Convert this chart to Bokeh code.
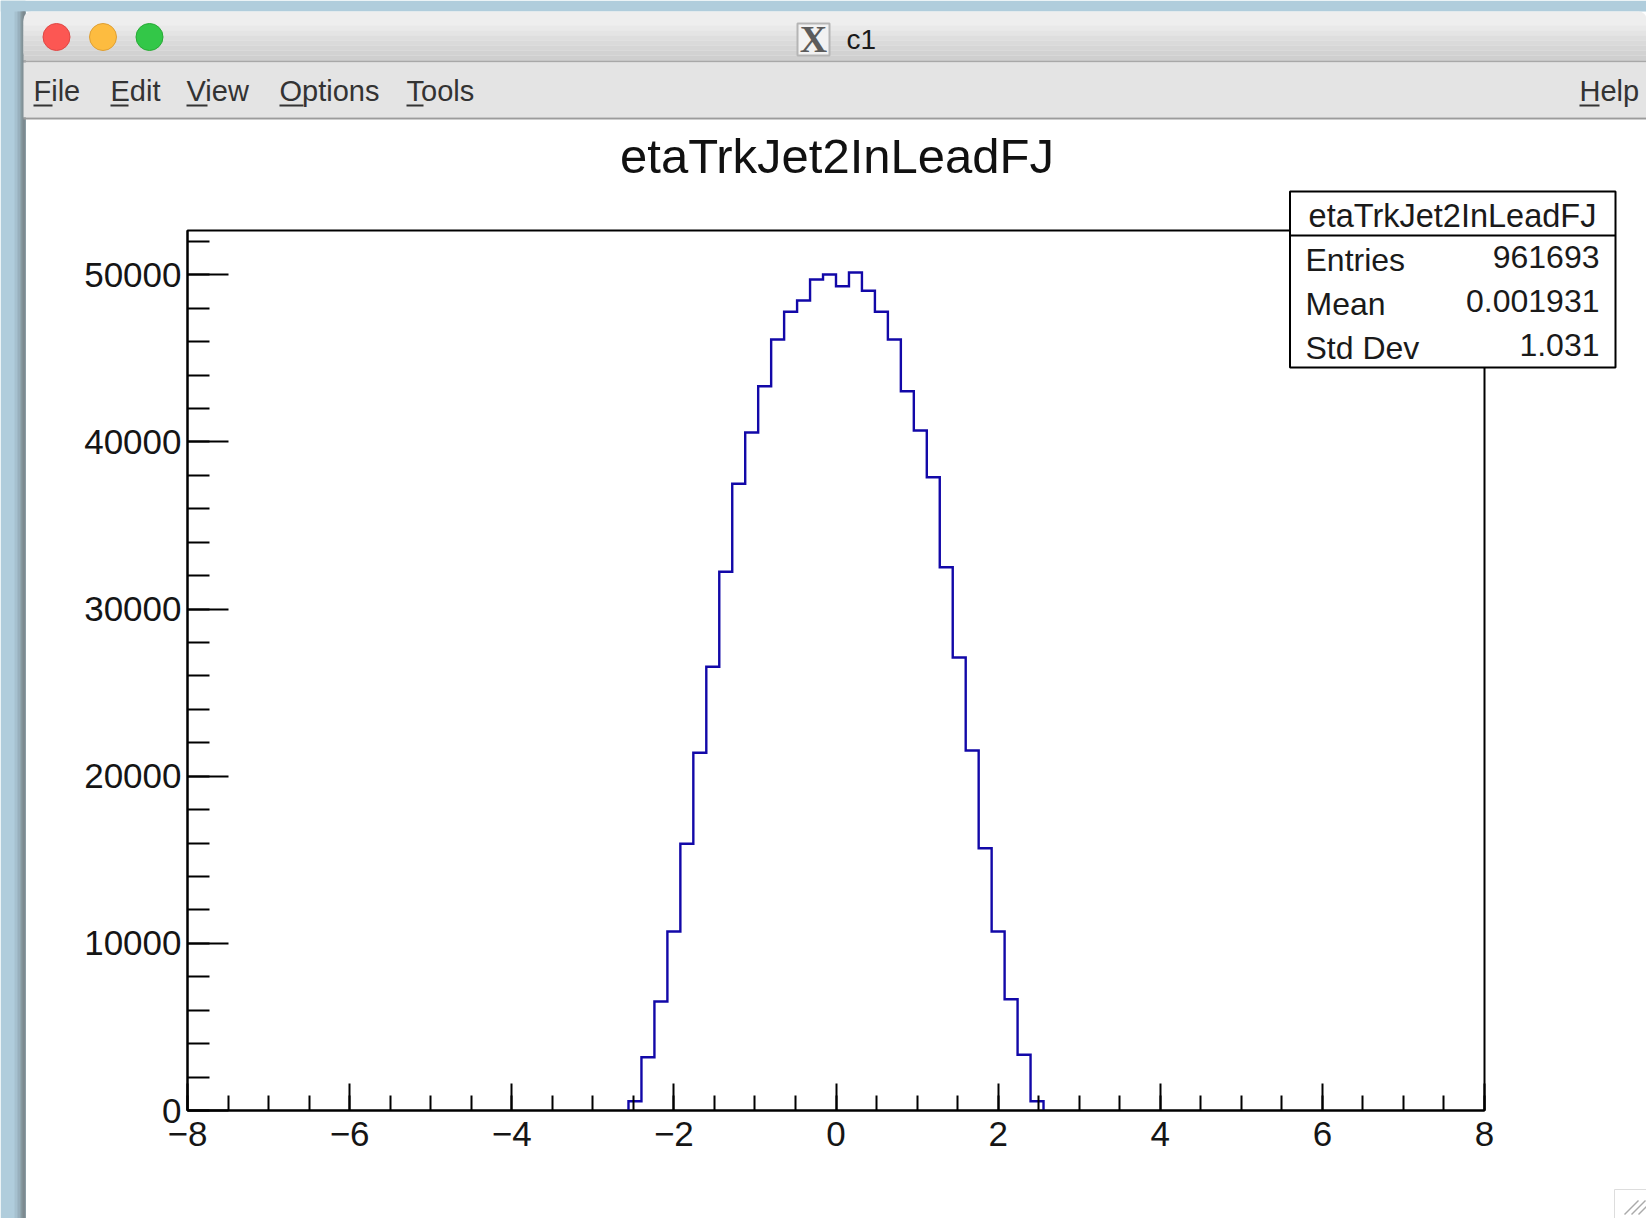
from bokeh.plotting import figure
from bokeh.layouts import column
from bokeh.models import FixedTicker, Range1d
from bokeh.core.properties import value
from bokeh.embed import file_html
from bokeh.resources import INLINE

# ---- data -------------------------------------------------------------
title_text = "etaTrkJet2InLeadFJ"
bin_width = 0.16
first_edge = -2.56
counts = [556, 3189, 6521, 10710, 15957, 21401, 26547, 32230,
          37495, 40565, 43335, 46129, 47786, 48462, 49719, 50018,
          49318, 50138, 49043, 47786, 46129, 43036, 40684, 37890,
          32505, 27103, 21539, 15693, 10710, 6659, 3333, 556]
x_major = [-8, -6, -4, -2, 0, 2, 4, 6, 8]
x_labels = ["\u22128", "\u22126", "\u22124", "\u22122", "0", "2", "4", "6", "8"]
y_major = [0, 10000, 20000, 30000, 40000, 50000]
y_labels = ["0", "10000", "20000", "30000", "40000", "50000"]
stats_names = ["Entries", "Mean", "Std Dev"]
stats_values = ["961693", "0.001931", "1.031"]
menu_left = ["File", "Edit", "View", "Options", "Tools"]

# ---- page geometry ------------------------------------------------------
W, H = 1646, 1218
PL, PR, PT, PB = 187, 1484, 230, 1110
FONT = "Liberation Sans"

p = figure(width=W, height=H, output_backend="svg", toolbar_location=None,
           x_range=Range1d(-8, 8), y_range=Range1d(0, 52650),
           min_border_left=PL, min_border_right=W - PR,
           min_border_top=PT, min_border_bottom=H - PB,
           background_fill_color="white", border_fill_color="white",
           frame_align=False)
p.grid.visible = False
p.outline_line_color = "black"
p.outline_line_width = 2

xa = p.xaxis[0]
xa.ticker = FixedTicker(ticks=x_major, minor_ticks=[-8 + 0.5 * i for i in range(33)])
xa.major_label_overrides = dict(zip(x_major, x_labels))
xa.major_tick_in, xa.major_tick_out = 27, 0
xa.minor_tick_in, xa.minor_tick_out = 15, 0
xa.major_label_standoff = 11
ya = p.yaxis[0]
ya.ticker = FixedTicker(ticks=y_major, minor_ticks=[2000 * i for i in range(27)])
ya.major_label_overrides = dict(zip(y_major, y_labels))
ya.major_tick_in, ya.major_tick_out = 41, 0
ya.minor_tick_in, ya.minor_tick_out = 22, 0
ya.major_label_standoff = 6
for a in (xa, ya):
    a.axis_line_color = a.major_tick_line_color = a.minor_tick_line_color = "black"
    a.axis_line_width = a.major_tick_line_width = a.minor_tick_line_width = 2
    a.major_label_text_font = FONT
    a.major_label_text_font_size = "35px"
    a.major_label_text_color = "#151515"

# histogram outline
edges = [first_edge + bin_width * i for i in range(len(counts) + 1)]
hx, hy = [edges[0]], [0]
for i, c in enumerate(counts):
    hx += [edges[i], edges[i + 1]]
    hy += [c, c]
hx.append(edges[-1])
hy.append(0)
p.line(hx, hy, line_color="#1208a8", line_width=2.4, line_join="miter")

# ---- transparent overlay in page pixels: window chrome, title, stats box --
o = figure(width=W, height=H, output_backend="svg", toolbar_location=None,
           x_range=Range1d(0, W), y_range=Range1d(H, 0),
           x_axis_type=None, y_axis_type=None,
           min_border=0, min_border_left=0, min_border_right=0,
           min_border_top=0, min_border_bottom=0,
           background_fill_alpha=0, border_fill_alpha=0, outline_line_alpha=0,
           margin=(-H, 0, 0, 0), frame_align=False)
o.grid.visible = False


def box(x0, y0, x1, y1, fill, line=None, lw=1, radius=0):
    o.quad(left=[x0], right=[x1], top=[y0], bottom=[y1],
           fill_color=fill, fill_alpha=1 if fill else 0,
           line_color=line, line_width=lw, line_alpha=1 if line else 0,
           border_radius=radius)


def text(x, y, s, size, align="left", color="#1a1a1a", font=FONT, style="normal"):
    o.text(x=[x], y=[y - 0.35 * size], text=[s], text_font=value(font),
           text_font_size=value(f"{size}px"), text_font_style=style,
           text_align=align, text_baseline="alphabetic", text_color=color)


# desktop and window shadow
box(0, 0, W, 11, "#b0cddc")
box(0, 0, 25, H, "#b0cddc")
for x0, col in [(14, "#a6c1cf"), (17, "#98b0bd"), (20, "#87999f"), (22, "#7d8a90")]:
    box(x0, 11, 25, H, col)
# title bar
box(23, 11, W, 60, "#eeeeee", radius=8)
grad = ["#eeeeee", "#e9e9e9", "#e4e4e4", "#dedede", "#dadada", "#d6d6d6", "#d2d2d2", "#cfcfcf"]
for i, col in enumerate(grad):
    box(23, 20 + i * 5, W, 25 + i * 5, col)
box(23, 60, W, 62, "#a8a8a8")
box(23, 62, W, 117, "#e4e4e4")
box(23, 117, W, 119, "#9b9b9b")

for cx, fill, line in [(56, "#fc5753", "#df4744"), (102.5, "#fdbc40", "#de9f34"), (149, "#33c748", "#27aa35")]:
    o.scatter(x=[cx], y=[36.5], size=27, fill_color=fill, line_color=line, line_width=1)

box(797, 23, 829, 55, "#f2f2f2", "#b5b5b5", 2)
text(813, 52, "X", 38, "center", "#5c5c5c", "Liberation Serif", "bold")
text(846, 49, "c1", 28)

menu_x = [33, 110, 186, 279, 406]
under = [19, 18, 21, 24, 17]
for s, x, u in zip(menu_left, menu_x, under):
    text(x, 101, s, 29, color="#333333")
    box(x, 104, x + u, 106, "#333333")
text(1579, 101, "Help", 29, color="#333333")
box(1579, 104, 1599, 106, "#333333")

# resize grip
box(1614, 1189, W, H, None, "#dddddd", 1)
for d in (0, 7, 14):
    o.line(x=[1624 + d, 1638 + d], y=[1214, 1200], line_color="#aaaaaa", line_width=1.5)

# title
text(836.5, 173, title_text, 49, "center", "#111111")

# statistics box
box(1289.5, 191, 1615, 367, "white", "black", 2)
box(1289.5, 234, 1615, 236, "black")
text(1452, 227, title_text, 32.5, "center")
for name, val, y in zip(stats_names, stats_values, (271, 315, 359)):
    text(1305, y, name, 32)
    text(1599, y - 3, val, 32, "right")

page = column(p, o, spacing=0)
open("out.html", "w").write(file_html(page, INLINE))
